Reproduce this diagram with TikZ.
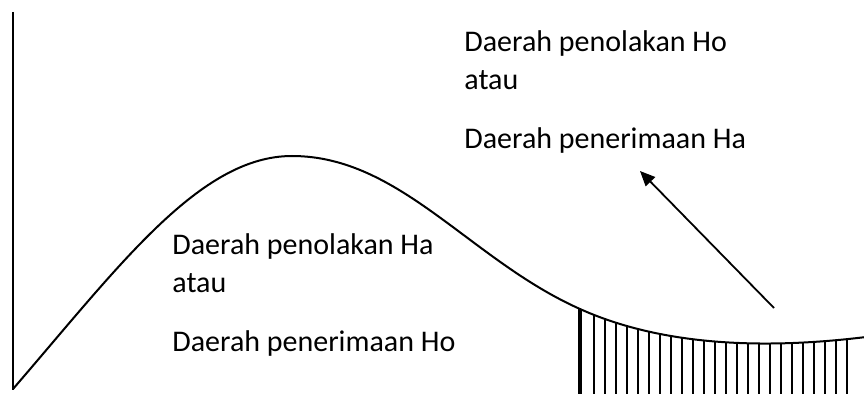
\documentclass[tikz,border=0pt]{standalone}
\usepackage{fontspec}
\setmainfont{Carlito}
\usetikzlibrary{arrows.meta}
\begin{document}
\begin{tikzpicture}[x=0.5pt,y=-0.5pt,
  lbl/.style={anchor=base west,inner sep=0pt,font=\fontsize{15}{18}\selectfont},
  curveline/.style={line width=1pt},
  hatch/.style={line width=1pt},
  thickhatch/.style={line width=2.2pt},
  arr/.style={line width=0.9pt,-{Triangle[length=7.5pt,width=6.5pt]}}]
\useasboundingbox (0,0) rectangle (864,401);
\def\curvepath{(13,389) .. controls (120,265) and (200,156) .. (292,156)
  .. controls (400,156) and (470,260) .. (580,309)
  .. controls (660,345) and (760,350) .. (866,337)}
% axis
\draw[curveline] (13,12) -- (13,390);
% curve
\draw[curveline] \curvepath;
% hatching
\begin{scope}
\clip \curvepath -- (866,394) -- (13,394) -- cycle;
\foreach \x in {594,605,616,627,638,649,660,671,682,693,704,715,726,737,748,759,770,781,792,803,814,825,836,847} {
  \draw[hatch] (\x,250) -- (\x,394);
}
\draw[thickhatch] (580,250) -- (580,394);
\end{scope}
% texts
\node[lbl] (t1) at (464,52) {Daerah penolakan Ho};
\node[lbl] (t2) at (464,90) {atau};
\node[lbl] (t3) at (464,149) {Daerah penerimaan Ha};
\node[lbl] (b1) at (172,255) {Daerah penolakan Ha};
\node[lbl] (b2) at (172,293) {atau};
\node[lbl] (b3) at (172,351) {Daerah penerimaan Ho};
% arrow
\coordinate (as) at (774,308);
\coordinate (ae) at (640,171);
\draw[arr] (as) -- (ae);
\end{tikzpicture}
\end{document}
